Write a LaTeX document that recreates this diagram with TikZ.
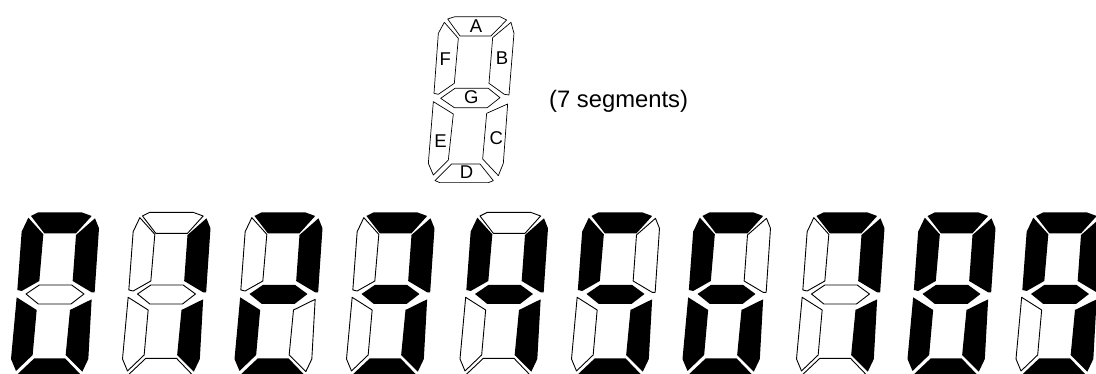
\documentclass[tikz,border=0pt]{standalone}
\usepackage{fontspec}
\setmainfont{Liberation Sans}
\tikzset{
  segon/.style={fill=black,draw=none},
  segoff/.style={fill=white,draw=black,line width=0.9pt,line join=round},
  outl/.style={fill=white,draw=black,line width=0.7pt,line join=round},
  lab/.style={font=\fontsize{18.5}{18.5}\selectfont,inner sep=0pt,text=black}
}
% segment geometry in 3x zoom units of the first digit
\newcommand{\sega}{(93,33)--(115,22)--(245,22)--(275,33)--(228,85)--(133,85)--cycle}
\newcommand{\segb}{(285,40)--(297,70)--(284,262)--(275,262)--(218,228)--(228,90)--cycle}
\newcommand{\segf}{(85,38)--(130,88)--(118,228)--(65,258)--(52,255)--(65,80)--cycle}
\newcommand{\segg}{(78,267)--(118,240)--(215,240)--(252,267)--(213,297)--(115,297)--cycle}
\newcommand{\sege}{(50,277)--(110,315)--(98,450)--(48,498)--(33,462)--cycle}
\newcommand{\segc}{(275,283)--(265,462)--(247,500)--(197,450)--(210,315)--cycle}
\newcommand{\segd}{(48,512)--(103,460)--(195,460)--(245,512)--cycle}
% #1 = x offset in px, #2..#8 styles for A B C D E F G
\newcommand{\digit}[8]{%
  \begin{scope}[shift={(#1,205)},x=0.3333pt,y=-0.3333pt]
    \path[#2] \sega; \path[#3] \segb; \path[#4] \segc; \path[#5] \segd;
    \path[#6] \sege; \path[#7] \segf; \path[#8] \segg;
  \end{scope}}
\begin{document}
\begin{tikzpicture}[x=1pt,y=-1pt]
\useasboundingbox (0,0) rectangle (1096,374);
\clip (0,0) rectangle (1096,374);
\begin{scope}[shift={(410,5)},x=0.3333pt,y=-0.3333pt]
  \path[outl] (113,42)--(135,35)--(270,35)--(290,45)--(243,93)--(150,93)--cycle;
  \path[outl] (303,52)--(312,85)--(297,270)--(283,268)--(237,235)--(248,98)--cycle;
  \path[outl] (103,52)--(145,100)--(133,235)--(85,268)--(72,265)--(85,85)--cycle;
  \path[outl] (92,280)--(135,250)--(235,250)--(270,278)--(232,308)--(133,308)--cycle;
  \path[outl] (70,290)--(130,327)--(115,465)--(70,510)--(55,475)--cycle;
  \path[outl] (293,297)--(280,475)--(265,512)--(218,462)--(230,325)--cycle;
  \path[outl] (75,527)--(125,477)--(210,477)--(250,527)--(235,533)--(90,533)--cycle;
  \node[lab] (labA) at (198,63) {A};
  \node[lab] (labB) at (276,160) {B};
  \node[lab] (labF) at (106,162) {F};
  \node[lab] (labG) at (184,275) {G};
  \node[lab] (labE) at (92,407) {E};
  \node[lab] (labC) at (259,398) {C};
  \node[lab] (labD) at (170,502) {D};
\end{scope}
\node[font=\fontsize{23.8}{23.8}\selectfont,anchor=base west,inner sep=0pt] (cap) at (549,108) {(7 segments)};
\digit{0}{segon}{segon}{segon}{segon}{segon}{segon}{segoff}
\digit{111.5}{segoff}{segon}{segon}{segoff}{segoff}{segoff}{segoff}
\digit{223.5}{segon}{segon}{segoff}{segon}{segon}{segoff}{segon}
\digit{335.5}{segon}{segon}{segon}{segon}{segoff}{segoff}{segon}
\digit{449}{segoff}{segon}{segon}{segoff}{segoff}{segon}{segon}
\digit{560.5}{segon}{segoff}{segon}{segon}{segoff}{segon}{segon}
\digit{671.5}{segon}{segoff}{segon}{segon}{segon}{segon}{segon}
\digit{785.5}{segon}{segon}{segon}{segoff}{segoff}{segoff}{segoff}
\digit{896.5}{segon}{segon}{segon}{segon}{segon}{segon}{segon}
\digit{1005}{segon}{segon}{segon}{segon}{segoff}{segon}{segon}
\end{tikzpicture}
\end{document}
